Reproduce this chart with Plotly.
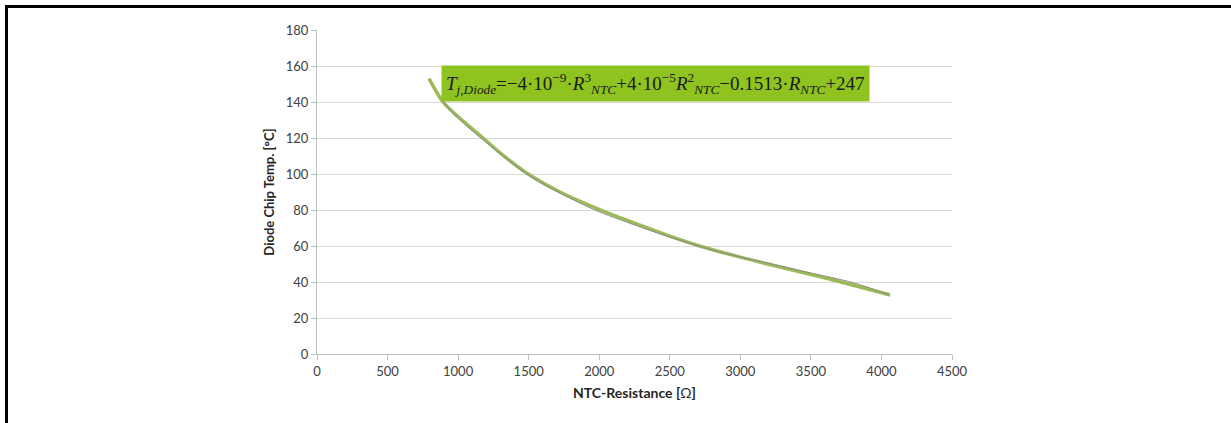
import plotly.graph_objects as go

# Measured curve (green)
meas_r = [794, 893, 1000, 1177, 1300, 1497, 1722, 2010, 2300, 2500, 2700, 3000, 3281, 3500, 3700, 4061]
meas_t = [153, 140, 131.8, 120, 111.6, 100, 90, 80, 71.3, 65.5, 60.3, 53.8, 48.3, 44.2, 40.3, 32.8]

# Polynomial fit curve (thin gray)
fit_r = [900, 1000, 1200, 1500, 1800, 2000, 2300, 2500, 2800, 3000, 3300, 3500, 3800, 4050]
fit_t = [139.5, 131, 117.5, 99.3, 86.3, 79, 70.3, 65, 57.8, 53.9, 48.6, 45.0, 39.6, 33.1]

x_ticks = [0, 500, 1000, 1500, 2000, 2500, 3000, 3500, 4000, 4500]
y_ticks = [0, 20, 40, 60, 80, 100, 120, 140, 160, 180]

equation = ("<i>T</i><sub><i>j,Diode</i></sub>=\u22124\u00b710<sup>\u22129</sup>\u00b7"
            "<i>R</i><sup>3</sup><sub><i>NTC</i></sub>+4\u00b710<sup>\u22125</sup>"
            "<i>R</i><sup>2</sup><sub><i>NTC</i></sub>\u22120.1513\u00b7"
            "<i>R</i><sub><i>NTC</i></sub>+247")

fig = go.Figure()
fig.add_trace(go.Scatter(x=meas_r, y=meas_t, mode="lines",
                         line=dict(color="#9BBB59", width=3.5, shape="spline", smoothing=0.8),
                         showlegend=False))
fig.add_trace(go.Scatter(x=fit_r, y=fit_t, mode="lines",
                         line=dict(color="#8C8C8C", width=1, shape="spline", smoothing=0.8),
                         showlegend=False))

fig.add_annotation(x=2398, y=150.4, xref="x", yref="y", text=equation,
                   showarrow=False, bgcolor="#8FC31F", borderpad=4,
                   font=dict(family="Liberation Serif", size=19, color="#1a1a1a"))

axis_font = dict(family="Lato", size=13, color="#404040")
fig.update_xaxes(range=[0, 4500], tickvals=x_ticks, ticktext=[str(v) for v in x_ticks],
                 showgrid=False, zeroline=False, showline=True, linecolor="#BFBFBF",
                 linewidth=1, ticks="outside", ticklen=5, tickcolor="#BFBFBF",
                 tickfont=axis_font,
                 title=dict(text="<b>NTC-Resistance [</b>\u03a9<b>]</b>",
                            font=dict(family="Lato", size=14, color="#262626"), standoff=10))
fig.update_yaxes(range=[0, 180], tickvals=y_ticks, ticktext=[str(v) for v in y_ticks],
                 showgrid=True, gridcolor="#D9D9D9", gridwidth=1, zeroline=False,
                 showline=True, linecolor="#BFBFBF", linewidth=1,
                 ticks="outside", ticklen=5, tickcolor="#BFBFBF",
                 tickfont=axis_font,
                 title=dict(text="<b>Diode Chip Temp. [\u00b0C]</b>",
                            font=dict(family="Lato", size=13, color="#262626"), standoff=8))

# Black frame lines (top and left)
fig.add_shape(type="line", xref="paper", yref="paper",
              x0=(5 - 317) / 635, x1=(1231 - 317) / 635,
              y0=(354 - 6.5) / 324, y1=(354 - 6.5) / 324,
              line=dict(color="black", width=3))
fig.add_shape(type="line", xref="paper", yref="paper",
              x0=(6.5 - 317) / 635, x1=(6.5 - 317) / 635,
              y0=(354 - 5) / 324, y1=(354 - 430) / 324,
              line=dict(color="black", width=3))

fig.update_layout(width=1231, height=423,
                  margin=dict(l=317, r=279, t=30, b=69),
                  paper_bgcolor="white", plot_bgcolor="white")

fig.write_html("out.html", config={"displayModeBar": False},
               post_script="document.body.style.margin='0';document.body.style.overflow='hidden';")
